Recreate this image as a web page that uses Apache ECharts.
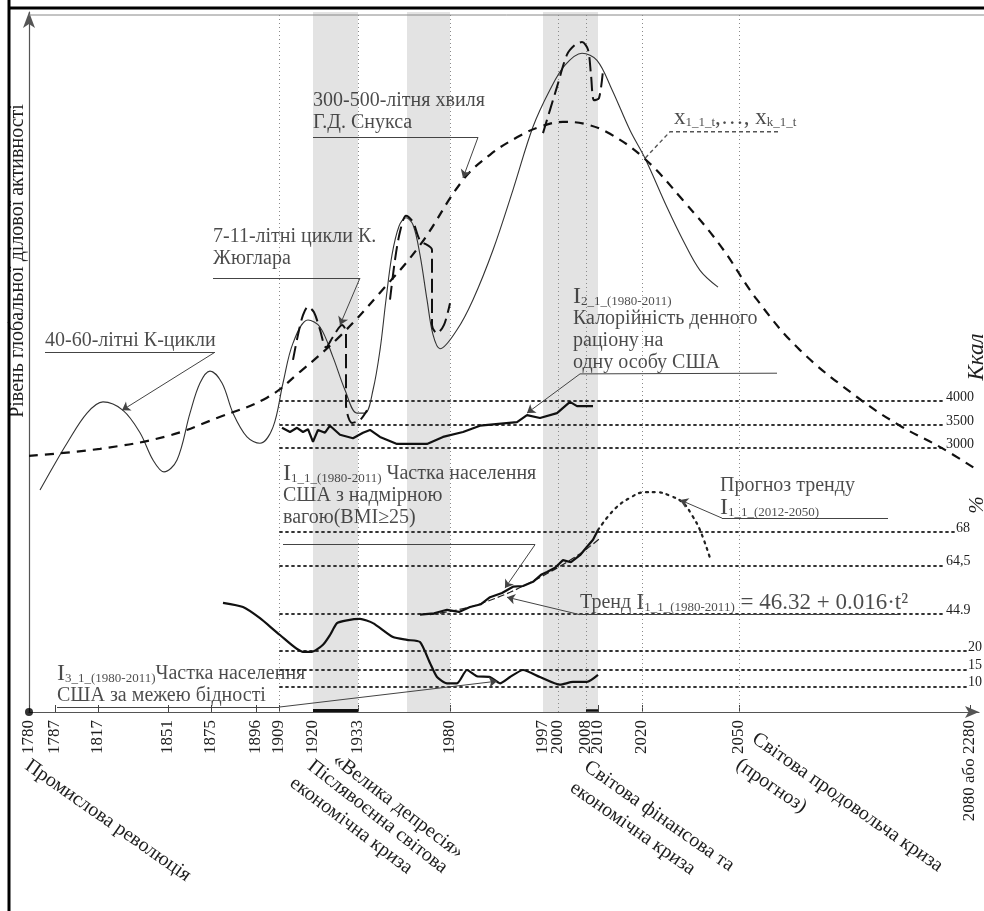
<!DOCTYPE html>
<html>
<head>
<meta charset="utf-8">
<script src="https://cdn.jsdelivr.net/npm/echarts@6.0.0/dist/echarts.min.js"></script>
<style>
  html, body { margin: 0; padding: 0; background: #fff; }
  #chart { width: 984px; height: 911px; }
</style>
</head>
<body>
<div id="chart"></div>
<script>
// ---- Schematic time axis: labelled years and their place on the (non-linear) time scale
const yearLabels = ['1780', '1787', '1817', '1851', '1875', '1896', '1909', '1920', '1933',
  '1980', '1997', '2000', '2008', '2010', '2020', '2050', '2080 або 2280'];
const yearPos = [0, 2.6, 6.9, 13.9, 18.2, 22.7, 25.0, 28.4, 32.9,
  42.1, 51.4, 52.9, 55.7, 56.9, 61.3, 71.0, 94.1];

// crisis periods (shaded) and years marked by a guide line
const crisisBands = [[28.4, 32.9], [37.8, 42.1], [51.4, 56.9]];
const guideYears = ['1909', '1933', '1980', '2000', '2008', '2020', '2050'];

// reference levels on the right: calories (Ккал) and shares (%)
const kcalTicks = ['4000', '3500', '3000'];
const kcalLevel = [44.4, 41.0, 37.7];
const pctTicks = ['68', '64,5', '44.9', '20', '15', '10'];
const pctLevel = [25.7, 20.9, 14.0, 8.7, 6.1, 3.6];

// ---- Waves of global business activity (time position, level)
const kondratievJuglarWave = [[1.1, 31.7], [2.4, 35.0], [3.8, 38.4], [5.8, 42.7], [7.4, 44.3], [9.4, 43.1],
  [11.1, 39.9], [12.4, 36.0], [13.5, 34.3], [14.8, 36.0], [16.1, 42.7], [17.1, 47.0], [18.1, 48.7],
  [19.3, 47.0], [20.4, 42.7], [21.8, 39.3], [23.1, 38.4], [24.4, 40.7], [25.4, 47.0], [26.4, 52.7],
  [27.9, 56.0], [29.1, 55.0], [30.4, 50.7], [31.6, 46.0], [32.8, 42.7], [33.6, 42.7], [34.4, 46.0],
  [35.1, 51.7], [35.7, 58.9], [36.3, 65.3], [37.0, 69.4], [37.7, 70.6], [38.4, 69.6], [39.1, 65.3],
  [39.8, 58.9], [40.4, 53.9], [41.1, 51.9], [42.8, 54.6], [44.4, 58.9], [46.4, 66.0], [48.4, 74.6],
  [50.4, 83.6], [52.1, 88.9], [53.6, 92.4], [55.3, 94.1], [56.8, 93.1], [58.3, 88.9], [60.1, 83.1],
  [61.6, 79.1], [63.8, 72.1], [65.4, 67.4], [67.1, 63.1], [68.9, 60.7]];

const snooksWave = [[0, 36.6], [7.1, 37.6], [13.8, 39.4], [18.8, 42.0], [23.8, 44.9], [27.1, 48.6],
  [31.1, 53.7], [35.1, 59.9], [39.1, 66.7], [43.4, 76.0], [46.1, 79.6], [48.8, 82.1], [51.1, 83.6],
  [53.4, 84.3], [55.6, 84.0], [58.1, 82.6], [61.6, 79.0], [65.4, 73.1], [69.1, 66.7], [72.8, 58.9],
  [77.1, 51.7], [82.8, 45.0], [87.1, 40.9], [91.3, 37.7], [94.8, 34.6]];

const juglar1920s = [[26.4, 50.3], [26.9, 53.9], [27.4, 56.7], [27.9, 57.9], [28.5, 57.1], [29.1, 54.6],
  [29.7, 52.1], [30.4, 53.6], [31.3, 55.3], [31.7, 54.3], [31.7, 43.9], [32.3, 41.3], [33.1, 41.7], [33.8, 43.1]];
const juglar1970s = [[36.1, 58.9], [36.6, 64.6], [37.1, 68.6], [37.7, 70.9], [38.4, 70.0], [39.1, 67.4],
  [40.3, 66.0], [40.3, 55.3], [40.8, 54.1], [41.5, 55.3], [42.1, 58.4]];
const juglar2008 = [[51.4, 82.7], [52.8, 89.3], [53.8, 93.9], [54.6, 95.3], [55.3, 95.7], [55.9, 94.6],
  [56.2, 91.0], [56.5, 87.4], [57.0, 87.7], [57.4, 91.7]];

// ---- Indicators
// I2: daily calorie intake per person, USA
const calories = [[25.3, 40.6], [26.1, 40.0], [26.8, 40.6], [27.4, 40.0], [27.9, 40.4], [28.4, 38.6],
  [28.9, 40.3], [29.6, 39.9], [30.1, 40.9], [31.1, 39.6], [32.4, 39.1], [33.4, 39.9], [34.1, 40.3],
  [35.1, 39.3], [36.8, 38.3], [39.8, 38.3], [41.4, 39.3], [43.4, 40.0], [45.1, 40.9], [48.8, 41.4],
  [49.8, 42.4], [51.1, 42.0], [52.8, 42.7], [54.1, 44.3], [54.8, 43.7], [56.4, 43.7]];
// I1: share of overweight population (BMI>=25), trend and forecast
const overweight = [[39.1, 13.9], [40.5, 14.1], [41.8, 14.6], [43.0, 14.3], [44.1, 15.0], [45.2, 15.4],
  [46.1, 16.4], [47.3, 17.0], [48.4, 17.9], [49.4, 18.0], [50.4, 18.6], [51.2, 19.6], [51.8, 20.0],
  [52.6, 20.6], [53.4, 21.7], [54.2, 21.4], [55.1, 22.4], [55.8, 23.6], [56.4, 24.6], [56.9, 26.0]];
const overweightTrend = [[40.1, 13.9], [44.1, 15.0], [48.1, 17.1], [52.1, 20.0], [55.1, 22.6], [57.1, 24.8]];
const overweightForecast = [[56.9, 26.0], [58.5, 28.9], [60.1, 30.6], [61.6, 31.4], [62.8, 31.4],
  [64.1, 30.9], [65.4, 29.9], [66.3, 28.1], [67.1, 26.0], [68.1, 22.0]];
// I3: share of population below the poverty line
const poverty = [[19.4, 15.6], [21.4, 15.0], [23.1, 13.4], [25.1, 11.0], [27.4, 8.6], [28.3, 8.6],
  [29.4, 9.6], [30.1, 11.0], [30.8, 12.7], [31.8, 13.1], [33.1, 13.3], [34.4, 12.7], [36.4, 10.7],
  [37.8, 10.3], [39.1, 10.0], [40.1, 7.0], [40.8, 5.0], [41.8, 4.1], [42.8, 4.1], [43.8, 6.0],
  [44.8, 5.1], [46.1, 5.0], [47.1, 4.1], [48.1, 5.0], [49.4, 6.0], [51.1, 5.0], [53.1, 3.9],
  [54.4, 4.3], [55.8, 4.3], [56.9, 5.3]];

// ---- styling helpers
const SERIF = '"Liberation Serif", "Times New Roman", "DejaVu Serif", serif';
const INK = '#1e1e1e';
const at = y => yearPos[yearLabels.indexOf(y)];

const rich = {
  t: { fontFamily: SERIF, fontSize: 20, color: INK, lineHeight: 22 },
  b: { fontFamily: SERIF, fontSize: 24, color: INK, lineHeight: 22 },
  s: { fontFamily: SERIF, fontSize: 13, color: INK, lineHeight: 6, verticalAlign: 'bottom' },
  f: { fontFamily: SERIF, fontSize: 23, color: INK, lineHeight: 22 },
  x: { fontFamily: SERIF, fontSize: 23, color: INK, lineHeight: 22 },
  xs: { fontFamily: SERIF, fontSize: 13, color: INK, lineHeight: 6, verticalAlign: 'bottom' }
};

// Text blocks: anchor = left edge / vertical centre of the block
const notes = [
  { value: [28.4, 85.7], text: '{t|300-500-літня хвиля}\n{t|Г.Д. Снукса}' },
  { value: [18.4, 66.3], text: '{t|7-11-літні цикли К.}\n{t|Жюглара}' },
  { value: [1.6, 53.0], text: '{t|40-60-літні К-цикли}' },
  { value: [64.5, 84.9], text: '{x|x}{xs|1_1_t}{x|,…, x}{xs|k_1_t}' },
  { value: [54.4, 54.6], text: '{b|I}{s|2_1_(1980-2011)}\n{t|Калорійність денного}\n{t|раціону на}\n{t|одну особу США}' },
  { value: [25.4, 30.9], text: '{b|I}{s|1_1_(1980-2011)}{t| Частка населення}\n{t|США з надмірною}\n{t|вагою(BMI≥25)}' },
  { value: [69.1, 30.7], text: '{t|Прогноз тренду}\n{b|I}{s|1_1_(2012-2050)}' },
  { value: [55.1, 15.6], text: '{t|Тренд }{b|I}{s|1_1_(1980-2011)}{f| = 46.32 + 0.016·t²}' },
  { value: [2.8, 3.9], text: '{b|I}{s|3_1_(1980-2011)}{t|Частка населення}\n{t|США за межею бідності}' }
];

// underline strokes under the text blocks, and pointers from the blocks to the curves
const underlines = [
  [[28.4, 82.1], [44.9, 82.1]],
  [[18.4, 62.0], [33.1, 62.0]],
  [[1.6, 51.4], [18.6, 51.4]],
  [[55.1, 48.3], [74.8, 48.4]],
  [[25.4, 23.9], [50.6, 23.9]],
  [[69.3, 27.7], [85.9, 27.7]],
  [[55.1, 13.9], [86.9, 13.9]],
  [[2.8, 0.7], [25.0, 0.7]]
];
const pointers = [
  [[44.9, 82.1], [43.4, 76.3]],
  [[33.1, 62.0], [31.1, 55.3]],
  [[18.6, 51.4], [9.3, 43.1]],
  [[55.1, 48.3], [49.8, 42.7]],
  [[50.6, 23.9], [47.6, 17.7]],
  [[69.3, 27.7], [65.1, 30.3]],
  [[55.1, 13.9], [47.8, 16.4]],
  [[25.0, 0.7], [46.8, 4.4]]
];
const seriesNameLeader = [[74.9, 82.9], [64.1, 82.9], [61.6, 79.1]];

// right-hand reference lines
const levelLines = [];
kcalTicks.forEach((t, i) => levelLines.push([{ coord: [25.1, kcalLevel[i]], name: t }, { coord: [91.6, kcalLevel[i]] }]));
pctTicks.forEach((t, i) => {
  const end = i === 0 ? 92.6 : (i >= 3 ? 93.8 : 91.6);
  levelLines.push([{ coord: [25.1, pctLevel[i]], name: t }, { coord: [end, pctLevel[i]] }]);
});

const lineSeries = (name, data, style, extra) => Object.assign({
  name, type: 'line', data, showSymbol: false, symbol: 'none', silent: true,
  lineStyle: style, z: 5
}, extra || {});

const chart = echarts.init(document.getElementById('chart'), null, { renderer: 'canvas' });

const crisisLabels = [
  { text: 'Промислова революція', x: 27, y: 764, a: 35 },
  { text: '«Велика депресія»', x: 335, y: 758, a: 37.5 },
  { text: 'Післявоєнна світова', x: 310, y: 764, a: 38 },
  { text: 'економічна криза', x: 292, y: 781, a: 37 },
  { text: 'Світова фінансова та', x: 586, y: 765, a: 35 },
  { text: 'економічна криза', x: 572, y: 786, a: 35 },
  { text: 'Світова продовольча криза', x: 754, y: 737, a: 35 },
  { text: '(прогноз)', x: 738, y: 763, a: 34.5 }
];

chart.setOption({
  animation: false,
  backgroundColor: '#fff',
  grid: { left: 29, right: 5, top: 12, bottom: 199, containLabel: false },
  xAxis: {
    type: 'value', min: 0, max: 95,
    splitLine: { show: false },
    axisLine: { show: true, symbol: ['none', 'arrow'], symbolSize: [9, 14], lineStyle: { color: '#555', width: 1.2 } },
    axisTick: { show: true, inside: true, length: 7, customValues: yearPos, lineStyle: { color: '#444' } },
    axisLabel: {
      show: true, customValues: yearPos, rotate: 90, margin: 8,
      fontFamily: SERIF, fontSize: 17, color: INK,
      formatter: v => { const i = yearPos.indexOf(v); return i >= 0 ? yearLabels[i] : ''; }
    }
  },
  yAxis: {
    type: 'value', min: 0, max: 100,
    splitLine: { show: false }, axisTick: { show: false }, axisLabel: { show: false },
    axisLine: { show: true, symbol: ['none', 'arrow'], symbolSize: [9, 16], lineStyle: { color: '#555', width: 1.2 } }
  },
  graphic: [
    { type: 'line', shape: { x1: 9, y1: 0, x2: 9, y2: 911 }, style: { stroke: '#000', lineWidth: 3 }, z: 100 },
    { type: 'line', shape: { x1: 8, y1: 8, x2: 984, y2: 8 }, style: { stroke: '#000', lineWidth: 3 }, z: 100 },
    { type: 'line', shape: { x1: 29, y1: 15, x2: 984, y2: 15 }, style: { stroke: '#888', lineWidth: 1 }, z: 100 },
    { type: 'text', x: 18, y: 261, rotation: Math.PI / 2,
      style: { text: 'Рівень глобальної ділової активності', font: '20px ' + SERIF, fill: INK, align: 'center', verticalAlign: 'middle' } },
    { type: 'text', x: 977, y: 357, rotation: Math.PI / 2,
      style: { text: 'Ккал', font: 'italic 23px ' + SERIF, fill: INK, align: 'center', verticalAlign: 'middle' } },
    { type: 'text', x: 977, y: 505, rotation: Math.PI / 2,
      style: { text: '%', font: 'italic 21px ' + SERIF, fill: INK, align: 'center', verticalAlign: 'middle' } }
  ].concat(crisisLabels.map(c => ({
    type: 'text', x: c.x, y: c.y, rotation: -c.a * Math.PI / 180,
    style: { text: c.text, font: '20px ' + SERIF, fill: INK, align: 'left', verticalAlign: 'middle' }
  }))),
  series: [
    // crisis bands and year guide lines
    {
      type: 'line', data: [], silent: true, z: 1,
      markArea: {
        silent: true, itemStyle: { color: '#e3e3e3' },
        data: crisisBands.map(([a, b]) => [{ xAxis: a }, { xAxis: b }])
      },
      markLine: {
        silent: true, symbol: ['none', 'none'], label: { show: false },
        lineStyle: { type: [1, 3], color: '#8a8a8a', width: 1 },
        data: guideYears.map(y => ({ xAxis: at(y) }))
      }
    },
    // right-hand reference levels
    {
      type: 'line', data: [], silent: true, z: 2,
      markLine: {
        silent: true, symbol: ['none', 'none'],
        lineStyle: { type: [2, 4], color: '#333', width: 1.8, cap: 'round' },
        label: { show: true, position: 'end', formatter: '{b}', distance: 1, offset: [0, -4],
          fontFamily: SERIF, fontSize: 14, color: INK },
        data: levelLines
      }
    },
    lineSeries('K-цикли і цикли Жюглара', kondratievJuglarWave, { color: '#333', width: 1.1 }, { smooth: 0.35 }),
    lineSeries('Хвиля Снукса', snooksWave, { color: '#111', width: 2.2, type: [9, 7] }, { smooth: 0.4 }),
    lineSeries('Цикл Жюглара 1920-1933', juglar1920s, { color: '#111', width: 2, type: [14, 6] }, { smooth: 0.3 }),
    lineSeries('Цикл Жюглара 1970-1980', juglar1970s, { color: '#111', width: 2, type: [14, 6] }, { smooth: 0.3 }),
    lineSeries('Цикл Жюглара 2008', juglar2008, { color: '#111', width: 2, type: [14, 6] }, { smooth: 0.3 }),
    lineSeries('I2 калорійність', calories, { color: '#111', width: 2.2 }),
    lineSeries('I1 тренд', overweightTrend, { color: '#222', width: 1.2, type: [7, 3] }, { smooth: 0.3 }),
    lineSeries('I1 надмірна вага', overweight, { color: '#111', width: 2.2 }),
    lineSeries('I1 прогноз', overweightForecast, { color: '#222', width: 2.2, type: [2, 5], cap: 'round' }, { smooth: 0.4 }),
    lineSeries('I3 бідність', poverty, { color: '#111', width: 2.2 }, { smooth: 0.2 }),
    // emphasis of crisis spans on the time axis
    lineSeries('1920-1933', [[at('1920'), 0.2], [at('1933'), 0.2]], { color: '#111', width: 3 }),
    lineSeries('2008-2010', [[at('2008'), 0.2], [at('2010'), 0.2]], { color: '#111', width: 2.5 }),
    { type: 'scatter', data: [[0, 0]], symbolSize: 8, itemStyle: { color: '#000' }, silent: true, z: 7, clip: false },
    // leader strokes
    {
      type: 'lines', coordinateSystem: 'cartesian2d', silent: true, z: 6,
      lineStyle: { color: '#444', width: 1, opacity: 1 },
      symbol: ['none', 'none'],
      data: underlines.map(c => ({ coords: c }))
    },
    {
      type: 'lines', coordinateSystem: 'cartesian2d', silent: true, z: 6,
      lineStyle: { color: '#444', width: 1, opacity: 1 },
      symbol: ['none', 'arrow'], symbolSize: 8,
      data: pointers.map(c => ({ coords: c }))
    },
    {
      type: 'lines', coordinateSystem: 'cartesian2d', polyline: true, silent: true, z: 6,
      lineStyle: { color: '#555', width: 1.4, type: [4, 3], opacity: 1 },
      data: [{ coords: seriesNameLeader }]
    },
    // text blocks
    {
      type: 'scatter', symbolSize: 0, silent: true, z: 8, clip: false,
      data: notes.map(n => ({ value: n.value, label: { formatter: n.text } })),
      label: { show: true, position: 'right', distance: 0, rich, fontFamily: SERIF, color: INK }
    }
  ]
});
</script>
</body>
</html>
